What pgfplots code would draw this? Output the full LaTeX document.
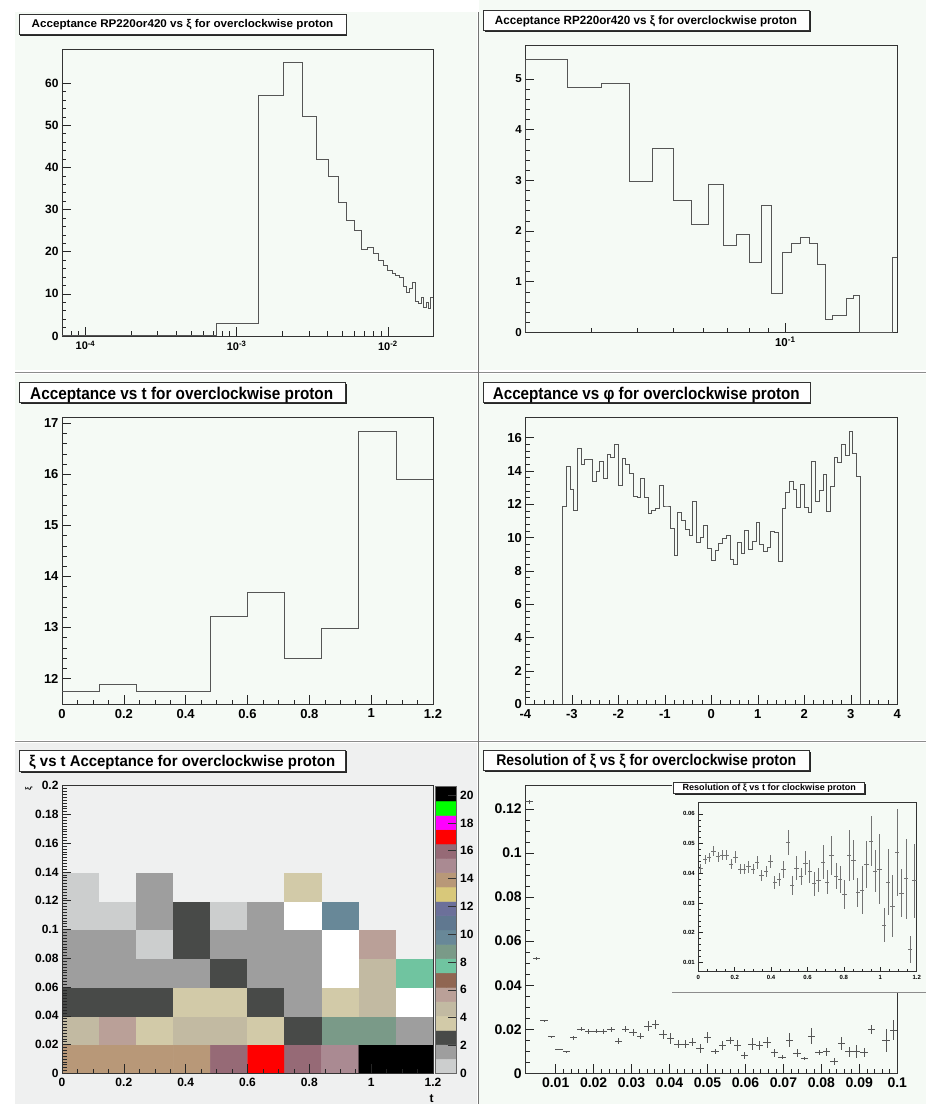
\documentclass[border=0pt]{standalone}
\usepackage{fontspec}
\setmainfont{Liberation Sans}
\usepackage{graphicx}
\usepackage{pgfplots}
\pgfplotsset{compat=1.18}
\definecolor{padbg}{RGB}{245,250,245}
\definecolor{padbgg}{RGB}{239,240,240}
\definecolor{hcol}{RGB}{85,85,85}
\newcommand{\fs}[1]{\fontsize{#1}{#1}\selectfont\bfseries}
\newcommand{\tbox}[4]{%
  \fill[black!85] ({#1pt+1.3pt},{#2pt-1.3pt}) rectangle ({#3pt+1.3pt},{#4pt-1.3pt});
  \filldraw[fill=white, draw=black!80, line width=0.5pt] (#1pt,#2pt) rectangle (#3pt,#4pt);}
\newcommand{\ttext}[5]{\node[anchor=base, inner sep=0pt] at (#1pt,#2pt) {\resizebox{#3pt}{\height}{\fs{#4}#5}};}
\pgfplotsset{
 rootax/.style={scale only axis, anchor=south west, tick align=inside, tick pos=left,
  axis line style={black!80, line width=0.6pt},
  tick style={black!85, line width=0.5pt},
  major tick length=9pt, minor tick length=4.5pt,
  /pgf/number format/assume math mode=true,
  scaled ticks=false, /pgf/number format/fixed, /pgf/number format/precision=3,
  xticklabel style={yshift=-1.2pt},
  clip=true},
 hist/.style={const plot, draw=hcol, line width=0.8pt, mark=none},
 errpts/.style={only marks, mark=*, mark size=0.01pt, mark options={opacity=0}},
 rootpal/.style={colormap={rootpal}{rgb255=(239,240,240) rgb255=(255,255,255) rgb255=(204,206,206) rgb255=(158,158,158) rgb255=(72,74,72) rgb255=(210,202,168) rgb255=(194,186,162) rgb255=(186,160,152) rgb255=(144,102,82) rgb255=(112,196,160) rgb255=(122,154,136) rgb255=(104,136,152) rgb255=(96,120,144) rgb255=(108,112,154) rgb255=(216,200,122) rgb255=(184,152,120) rgb255=(170,138,146) rgb255=(150,106,118) rgb255=(255,0,0) rgb255=(255,0,255) rgb255=(0,255,0) rgb255=(0,0,0)}, colormap access=direct},
}
\begin{document}
\begin{tikzpicture}
\fill[white] (0pt,0pt) rectangle (926pt,1104pt);
\useasboundingbox (0pt,0pt) rectangle (926pt,1104pt);
% pads
\fill[padbg] (15pt,734pt) rectangle (477pt,1092pt);
\fill[padbg] (479pt,734pt) rectangle (926pt,1104pt);
\fill[padbg] (15pt,364pt) rectangle (477pt,730pt);
\fill[padbg] (479pt,364pt) rectangle (926pt,730pt);
\fill[padbgg] (15pt,0pt) rectangle (477pt,361pt);
\fill[padbg] (479pt,0pt) rectangle (926pt,361pt);
\draw[black!45, line width=0.7pt] (15pt,731.3pt) -- (926pt,731.3pt);
\draw[black!45, line width=0.7pt] (15pt,362.3pt) -- (926pt,362.3pt);
\draw[black!55, line width=0.7pt] (478pt,0pt) -- (478pt,1092pt);

% ---------- Panel 1 ----------
\begin{axis}[rootax, at={(62pt,768pt)}, width=371pt, height=286.7pt,
  xmode=log, xmin=0.00007, xmax=0.01987, ymin=0, ymax=68,
  xtick={1e-4,1e-3,1e-2}, xticklabels={10\textsuperscript{-4},10\textsuperscript{-3},10\textsuperscript{-2}},
  minor xtick={8e-5,9e-5,2e-4,3e-4,4e-4,5e-4,6e-4,7e-4,8e-4,9e-4,2e-3,3e-3,4e-3,5e-3,6e-3,7e-3,8e-3,9e-3},
  ytick={0,10,...,60}, minor y tick num=4,
  yticklabel style={font=\fs{12}}, xticklabel style={font=\fs{11}}]
\addplot[hist] table[row sep=\\] {x y\\
0.00007 0.2\\ 0.00073 3.08\\ 0.00139 57.1\\ 0.00205 64.8\\ 0.00271 52.2\\ 0.00337 41.9\\
0.00403 37.8\\ 0.00469 31.7\\ 0.00535 27.4\\ 0.00601 25.1\\ 0.00667 20.6\\ 0.00733 20.9\\
0.00799 19.6\\ 0.00865 18.0\\ 0.00931 16.8\\ 0.00997 15.6\\ 0.01063 14.8\\ 0.01129 14.3\\
0.01195 13.9\\ 0.01261 11.7\\ 0.01327 10.4\\ 0.01393 11.3\\ 0.01459 12.7\\ 0.01525 8.1\\
0.01591 7.8\\ 0.01657 9.1\\ 0.01723 6.8\\ 0.01789 8.0\\ 0.01855 6.5\\ 0.01921 9.1\\ 0.01987 9.1\\
};
\end{axis}

% ---------- Panel 2 ----------
\begin{axis}[rootax, at={(525.3pt,771.7pt)}, width=372pt, height=287.3pt,
  xmode=log, xmin=0.02, xmax=0.2, ymin=0, ymax=5.67,
  xtick={0.1}, xticklabels={10\textsuperscript{-1}},
  minor xtick={0.03,0.04,0.05,0.06,0.07,0.08,0.09},
  ytick={0,1,...,5}, minor y tick num=4,
  yticklabel style={font=\fs{11.5}}, xticklabel style={font=\fs{11.5}}]
\addplot[hist] table[row sep=\\] {x y\\
0.020 0\\ 0.020 5.39\\ 0.026 4.84\\ 0.032 4.91\\ 0.038 2.97\\ 0.044 3.63\\ 0.050 2.61\\
0.056 2.13\\ 0.062 2.92\\ 0.068 1.72\\ 0.074 1.93\\ 0.080 1.38\\ 0.086 2.50\\ 0.092 0.76\\
0.098 1.57\\ 0.104 1.76\\ 0.110 1.87\\ 0.116 1.76\\ 0.122 1.34\\ 0.128 0.26\\ 0.134 0.34\\
0.140 0.34\\ 0.146 0.67\\ 0.152 0.72\\ 0.158 0\\ 0.164 0\\ 0.170 0\\ 0.176 0\\ 0.182 0\\
0.188 0\\ 0.194 1.47\\ 0.200 1.47\\
};
\end{axis}

% ---------- Panel 3 ----------
\begin{axis}[rootax, at={(62pt,399.7pt)}, width=371pt, height=286.6pt,
  xmin=0, xmax=1.2, ymin=11.496, ymax=17.11,
  xtick={0,0.2,...,1.2}, minor x tick num=3,
  ytick={12,13,...,17}, minor y tick num=4,
  ticklabel style={font=\fs{13}}]
\addplot[hist] table[row sep=\\] {x y\\
0 11.74\\ 0.12 11.88\\ 0.24 11.74\\ 0.36 11.74\\ 0.48 13.22\\ 0.60 13.69\\ 0.72 12.39\\
0.84 12.98\\ 0.96 16.85\\ 1.08 15.90\\ 1.20 15.90\\
};
\end{axis}

% ---------- Panel 4 ----------
\begin{axis}[rootax, at={(525.3pt,399.7pt)}, width=372pt, height=286.6pt,
  xmin=-4, xmax=4, ymin=0, ymax=17.2,
  xtick={-4,...,4}, minor x tick num=4,
  ytick={0,2,...,16}, minor y tick num=4,
  ticklabel style={font=\fs{13}}, xticklabel style={yshift=-0.8pt}]
\addplot[hist] table[row sep=\\] {x y\\
-3.20 0\\ -3.20 11.90\\ -3.12 14.30\\ -3.04 12.90\\ -2.96 11.66\\ -2.88 15.36\\ -2.80 14.42\\
-2.72 14.70\\ -2.64 14.70\\ -2.56 13.40\\ -2.48 13.96\\ -2.40 14.56\\ -2.32 13.58\\ -2.24 15.00\\
-2.16 14.82\\ -2.08 15.60\\ -2.00 13.16\\ -1.92 14.74\\ -1.84 14.42\\ -1.76 13.86\\ -1.68 12.50\\
-1.60 12.40\\ -1.52 13.56\\ -1.44 12.40\\ -1.36 11.44\\ -1.28 11.66\\ -1.20 11.76\\ -1.12 13.12\\
-1.04 11.90\\ -0.96 11.90\\ -0.88 10.56\\ -0.80 8.92\\ -0.72 11.50\\ -0.64 11.02\\ -0.56 10.50\\
-0.48 10.12\\ -0.40 12.18\\ -0.32 9.72\\ -0.24 10.00\\ -0.16 10.76\\ -0.08 9.36\\ 0.00 8.66\\
0.08 9.22\\ 0.16 9.66\\ 0.24 9.96\\ 0.32 10.16\\ 0.40 8.72\\ 0.48 8.40\\ 0.56 9.72\\ 0.64 9.06\\
0.72 10.44\\ 0.80 9.30\\ 0.88 9.80\\ 0.96 10.90\\ 1.04 9.60\\ 1.12 9.20\\ 1.20 9.40\\ 1.28 10.40\\
1.36 10.30\\ 1.44 8.56\\ 1.52 11.76\\ 1.60 12.70\\ 1.68 13.36\\ 1.76 12.90\\ 1.84 11.80\\ 1.92 13.20\\
2.00 11.80\\ 2.08 11.50\\ 2.16 14.60\\ 2.24 12.20\\ 2.32 12.86\\ 2.40 13.80\\ 2.48 11.56\\ 2.56 13.06\\
2.64 14.82\\ 2.72 14.50\\ 2.80 15.62\\ 2.88 14.92\\ 2.96 16.40\\ 3.04 15.06\\ 3.12 13.70\\ 3.20 13.70\\
3.20 0\\
};
\end{axis}

% ---------- Panel 5 ----------
\begin{axis}[rootax, rootpal, axis on top, at={(62pt,30.7pt)}, width=371pt, height=287.6pt,
  xmin=0, xmax=1.2, ymin=0, ymax=0.2,
  xtick={0,0.2,...,1.2}, minor x tick num=3,
  ytick={0,0.02,...,0.2}, minor y tick num=9,
  ticklabel style={font=\fs{12}}]
\addplot[matrix plot*, point meta=explicit, mesh/cols=10, mesh/ordering=x varies] table[row sep=\\, meta=c] {x y c\\
0.06 0.01 15\\ 0.18 0.01 15\\ 0.30 0.01 15\\ 0.42 0.01 15\\ 0.54 0.01 17\\ 0.66 0.01 18\\ 0.78 0.01 17\\ 0.90 0.01 16\\ 1.02 0.01 21\\ 1.14 0.01 21\\
0.06 0.03 6\\ 0.18 0.03 7\\ 0.30 0.03 5\\ 0.42 0.03 6\\ 0.54 0.03 6\\ 0.66 0.03 5\\ 0.78 0.03 4\\ 0.90 0.03 10\\ 1.02 0.03 10\\ 1.14 0.03 3\\
0.06 0.05 4\\ 0.18 0.05 4\\ 0.30 0.05 4\\ 0.42 0.05 5\\ 0.54 0.05 5\\ 0.66 0.05 4\\ 0.78 0.05 3\\ 0.90 0.05 5\\ 1.02 0.05 6\\ 1.14 0.05 1\\
0.06 0.07 3\\ 0.18 0.07 3\\ 0.30 0.07 3\\ 0.42 0.07 3\\ 0.54 0.07 4\\ 0.66 0.07 3\\ 0.78 0.07 3\\ 0.90 0.07 1\\ 1.02 0.07 6\\ 1.14 0.07 9\\
0.06 0.09 3\\ 0.18 0.09 3\\ 0.30 0.09 2\\ 0.42 0.09 4\\ 0.54 0.09 3\\ 0.66 0.09 3\\ 0.78 0.09 3\\ 0.90 0.09 1\\ 1.02 0.09 7\\ 1.14 0.09 0\\
0.06 0.11 2\\ 0.18 0.11 2\\ 0.30 0.11 3\\ 0.42 0.11 4\\ 0.54 0.11 2\\ 0.66 0.11 3\\ 0.78 0.11 1\\ 0.90 0.11 11\\ 1.02 0.11 0\\ 1.14 0.11 0\\
0.06 0.13 2\\ 0.18 0.13 0\\ 0.30 0.13 3\\ 0.42 0.13 0\\ 0.54 0.13 0\\ 0.66 0.13 0\\ 0.78 0.13 5\\ 0.90 0.13 0\\ 1.02 0.13 0\\ 1.14 0.13 0\\
0.06 0.15 0\\ 0.18 0.15 0\\ 0.30 0.15 0\\ 0.42 0.15 0\\ 0.54 0.15 0\\ 0.66 0.15 0\\ 0.78 0.15 0\\ 0.90 0.15 0\\ 1.02 0.15 0\\ 1.14 0.15 0\\
0.06 0.17 0\\ 0.18 0.17 0\\ 0.30 0.17 0\\ 0.42 0.17 0\\ 0.54 0.17 0\\ 0.66 0.17 0\\ 0.78 0.17 0\\ 0.90 0.17 0\\ 1.02 0.17 0\\ 1.14 0.17 0\\
0.06 0.19 0\\ 0.18 0.19 0\\ 0.30 0.19 0\\ 0.42 0.19 0\\ 0.54 0.19 0\\ 0.66 0.19 0\\ 0.78 0.19 0\\ 0.90 0.19 0\\ 1.02 0.19 0\\ 1.14 0.19 0\\
};
\end{axis}
% colour bar
\begin{axis}[rootpal, scale only axis, anchor=south west, at={(435.7pt,30.7pt)}, width=21pt, height=286.6pt,
  xmin=0, xmax=1, ymin=0, ymax=20.6, xtick=\empty, ytick={0,2,...,20},
  ytick pos=right, yticklabel pos=right, tick align=inside, major tick length=9pt,
  axis line style={black!60, line width=0.5pt}, tick style={black!80, line width=0.5pt},
  axis on top, /pgf/number format/assume math mode=true,
  yticklabel style={font=\fs{12}}]
\addplot[matrix plot*, point meta=explicit, mesh/cols=2, mesh/ordering=x varies] table[row sep=\\, meta=c] {x y c\\
0.25 0.515 2\\ 0.75 0.515 2\\ 0.25 1.545 3\\ 0.75 1.545 3\\ 0.25 2.575 4\\ 0.75 2.575 4\\
0.25 3.605 5\\ 0.75 3.605 5\\ 0.25 4.635 6\\ 0.75 4.635 6\\ 0.25 5.665 7\\ 0.75 5.665 7\\
0.25 6.695 8\\ 0.75 6.695 8\\ 0.25 7.725 9\\ 0.75 7.725 9\\ 0.25 8.755 10\\ 0.75 8.755 10\\
0.25 9.785 11\\ 0.75 9.785 11\\ 0.25 10.815 12\\ 0.75 10.815 12\\ 0.25 11.845 13\\ 0.75 11.845 13\\
0.25 12.875 14\\ 0.75 12.875 14\\ 0.25 13.905 15\\ 0.75 13.905 15\\ 0.25 14.935 16\\ 0.75 14.935 16\\
0.25 15.965 17\\ 0.75 15.965 17\\ 0.25 16.995 18\\ 0.75 16.995 18\\ 0.25 18.025 19\\ 0.75 18.025 19\\
0.25 19.055 20\\ 0.75 19.055 20\\ 0.25 20.085 21\\ 0.75 20.085 21\\
};
\end{axis}
\node[inner sep=0pt] at (431.7pt,5pt) {\fs{12}t};
\node[inner sep=0pt, rotate=90] at (29pt,315.5pt) {\fs{8}ξ};

% ---------- Panel 6 ----------
\begin{axis}[rootax, at={(525.3pt,30.7pt)}, width=372pt, height=287.6pt,
  xmin=0.002, xmax=0.1, ymin=0, ymax=0.1306,
  xtick={0.01,0.02,0.03,0.04,0.05,0.06,0.07,0.08,0.09,0.1}, minor x tick num=4,
  ytick={0,0.02,...,0.12}, minor y tick num=3,
  ticklabel style={font=\fs{14}}]
\addplot[errpts, error bars/.cd, x dir=both, x fixed=0.00098, y dir=both, y explicit,
  error mark=none, error bar style={line width=0.6pt, hcol}]
 table[row sep=\\, x=x, y=y, y error=ey] {x y ey\\
0.00298 0.1233 0.0008\\ 0.00494 0.0522 0.0006\\ 0.00690 0.0239 0.0003\\ 0.00886 0.0166 0.0003\\
0.01082 0.0109 0.0003\\ 0.01278 0.0098 0.0003\\ 0.01474 0.0162 0.0009\\ 0.01670 0.0200 0.0010\\
0.01866 0.0189 0.0010\\ 0.02062 0.0192 0.0010\\ 0.02258 0.0189 0.0012\\ 0.02454 0.0200 0.0012\\
0.02650 0.0147 0.0015\\ 0.02846 0.0200 0.0013\\ 0.03042 0.0185 0.0015\\ 0.03238 0.0170 0.0013\\
0.03434 0.0215 0.0022\\ 0.03630 0.0222 0.0022\\ 0.03826 0.0177 0.0020\\ 0.04022 0.0159 0.0025\\
0.04218 0.0133 0.0020\\ 0.04414 0.0133 0.0018\\ 0.04610 0.0141 0.0018\\ 0.04806 0.0114 0.0020\\
0.05002 0.0162 0.0025\\ 0.05198 0.0098 0.0012\\ 0.05394 0.0126 0.0020\\ 0.05590 0.0148 0.0015\\
0.05786 0.0126 0.0025\\ 0.05982 0.0080 0.0015\\ 0.06178 0.0133 0.0028\\ 0.06374 0.0126 0.0020\\
0.06570 0.0139 0.0025\\ 0.06766 0.0094 0.0018\\ 0.06962 0.0073 0.0010\\ 0.07158 0.0151 0.0030\\
0.07354 0.0091 0.0018\\ 0.07550 0.0068 0.0006\\ 0.07746 0.0170 0.0035\\ 0.07942 0.0094 0.0012\\
0.08138 0.0098 0.0018\\ 0.08334 0.0053 0.0015\\ 0.08530 0.0136 0.0030\\ 0.08726 0.0098 0.0022\\
0.08922 0.0098 0.0030\\ 0.09118 0.0094 0.0022\\ 0.09314 0.0200 0.0020\\ 0.09706 0.0148 0.0053\\
0.09902 0.0197 0.0045\\
};
\end{axis}
% inset pad
\fill[padbg] (672pt,111.3pt) rectangle (926pt,328pt);
\draw[black!45, line width=0.7pt] (672pt,111.3pt) -- (926pt,111.3pt);
\begin{axis}[rootax, at={(698.3pt,132.3pt)}, width=218.4pt, height=169.4pt,
  xmin=0, xmax=1.2, ymin=0.00685, ymax=0.0639,
  xtick={0,0.2,...,1.2}, minor x tick num=3,
  ytick={0.01,0.02,...,0.06}, minor y tick num=4,
  major tick length=5pt, minor tick length=2.5pt,
  ticklabel style={font=\fs{6}}, xticklabel style={yshift=0.8pt}]
\addplot[errpts, error bars/.cd, x dir=both, x fixed=0.012, y dir=both, y explicit,
  error mark=none, error bar style={line width=0.5pt, black!55}]
 table[row sep=\\, x=x, y=y, y error=ey] {x y ey\\
0.012 0.0417 0.0015\\ 0.036 0.0447 0.0016\\ 0.060 0.0454 0.0015\\ 0.084 0.0475 0.0017\\
0.108 0.0456 0.0017\\ 0.132 0.0462 0.0017\\ 0.156 0.0460 0.0017\\ 0.180 0.0430 0.0017\\
0.204 0.0454 0.0020\\ 0.228 0.0413 0.0017\\ 0.252 0.0413 0.0017\\ 0.276 0.0422 0.0020\\
0.300 0.0413 0.0017\\ 0.324 0.0436 0.0022\\ 0.348 0.0392 0.0019\\ 0.372 0.0406 0.0019\\
0.396 0.0439 0.0022\\ 0.420 0.0369 0.0022\\ 0.444 0.0380 0.0022\\ 0.468 0.0413 0.0028\\
0.492 0.0503 0.0042\\ 0.516 0.0358 0.0032\\ 0.540 0.0418 0.0040\\ 0.564 0.0389 0.0030\\
0.588 0.0434 0.0040\\ 0.612 0.0406 0.0040\\ 0.636 0.0365 0.0040\\ 0.660 0.0378 0.0040\\
0.684 0.0438 0.0058\\ 0.708 0.0370 0.0040\\ 0.732 0.0460 0.0065\\ 0.756 0.0391 0.0045\\
0.780 0.0380 0.0045\\ 0.804 0.0329 0.0050\\ 0.828 0.0460 0.0085\\ 0.852 0.0445 0.0068\\
0.876 0.0335 0.0050\\ 0.900 0.0344 0.0080\\ 0.924 0.0430 0.0080\\ 0.948 0.0509 0.0085\\
0.972 0.0408 0.0072\\ 0.996 0.0415 0.0118\\ 1.020 0.0226 0.0056\\ 1.044 0.0371 0.0112\\
1.068 0.0289 0.0105\\ 1.092 0.0470 0.0145\\ 1.116 0.0333 0.0080\\ 1.140 0.0382 0.0135\\
1.164 0.0144 0.0045\\ 1.188 0.0375 0.0125\\
};
\end{axis}

% ---------- titles ----------
\tbox{19}{1069.7}{346}{1090}
\ttext{182.5}{1076.7}{301.6}{11.2}{Acceptance RP220or420 vs ξ for overclockwise proton}
\tbox{483.7}{1073.3}{809.7}{1094}
\ttext{646}{1079}{302}{12}{Acceptance RP220or420 vs ξ for overclockwise proton}
\tbox{19.3}{701.3}{345.7}{721.3}
\ttext{181.7}{704.7}{303}{17}{Acceptance vs t for overclockwise proton}
\tbox{483}{701.3}{810}{721.3}
\ttext{646.3}{704.7}{307}{17}{Acceptance vs φ for overclockwise proton}
\tbox{19.3}{332.3}{345.7}{354}
\ttext{182.2}{337.3}{306}{15.5}{ξ vs t Acceptance for overclockwise proton}
\tbox{483.7}{333.3}{809.7}{353.3}
\ttext{646.3}{338}{300}{15.5}{Resolution of ξ vs ξ for overclockwise proton}
\tbox{673.3}{310.7}{864.3}{321.7}
\ttext{769.3}{313.3}{173.3}{8.9}{Resolution of ξ vs t for clockwise proton}
\end{tikzpicture}
\end{document}
